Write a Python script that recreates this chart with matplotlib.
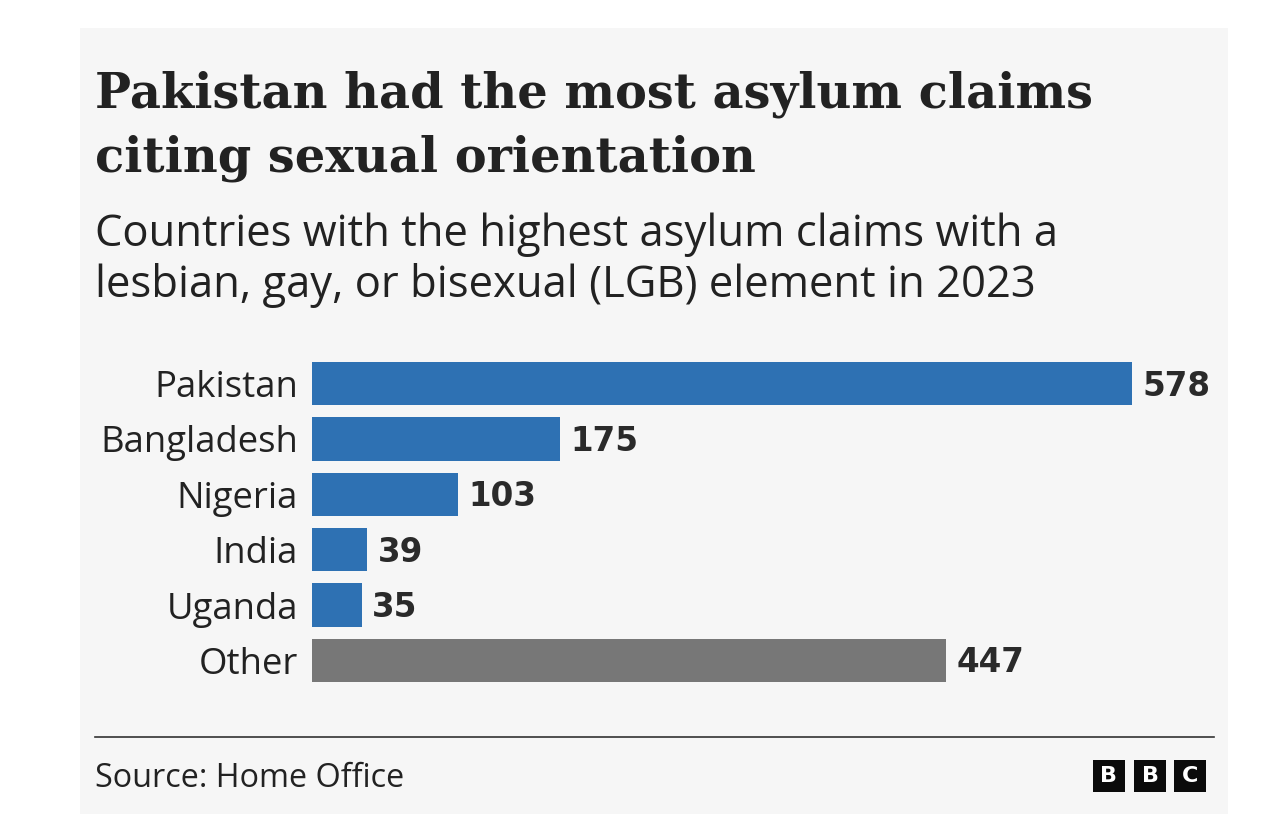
import matplotlib.pyplot as plt
from matplotlib.patches import Rectangle

# Data
countries = ["Pakistan", "Bangladesh", "Nigeria", "India", "Uganda", "Other"]
claims = [578, 175, 103, 39, 35, 447]
bar_colors = ["#2e71b3", "#2e71b3", "#2e71b3", "#2e71b3", "#2e71b3", "#777777"]

title_lines = ["Pakistan had the most asylum claims", "citing sexual orientation"]
subtitle_lines = ["Countries with the highest asylum claims with a",
                  "lesbian, gay, or bisexual (LGB) element in 2023"]
source = "Source: Home Office"

W, H = 1280, 834
TXT = "#222222"
SANS = ["Open Sans", "DejaVu Sans"]
SERIF = ["DejaVu Serif"]


def fx(px):
    return px / W


def fy(py):
    return 1 - py / H


fig = plt.figure(figsize=(W / 100, H / 100), dpi=100, facecolor="white")

# light grey panel
fig.patches.append(Rectangle((fx(80), fy(814)), fx(1228 - 80), (814 - 28) / H,
                             transform=fig.transFigure, facecolor="#f6f6f6",
                             edgecolor="none", zorder=-5))

# title and subtitle
for line, y in zip(title_lines, [107, 172]):
    fig.text(fx(95), fy(y), line, fontsize=34.5, fontweight="bold",
             family=SERIF, color=TXT, va="baseline", ha="left")
for line, y in zip(subtitle_lines, [246, 297]):
    fig.text(fx(95), fy(y), line, fontsize=31.4, family=SANS,
             color=TXT, va="baseline", ha="left")

# bars
ax = fig.add_axes([fx(312), fy(682), fx(1132 - 312), (682 - 362) / H])
ax.set_facecolor("none")
ypos = range(len(countries))
ax.barh(ypos, claims, height=0.78, color=bar_colors)
ax.set_xlim(0, max(claims))
ax.set_ylim(len(countries) - 1 + 0.39, -0.39)
ax.set_yticks(list(ypos))
ax.set_yticklabels(countries, fontsize=26.3, family=SANS, color=TXT)
ax.tick_params(axis="y", length=0, pad=10)
ax.set_xticks([])
for s in ax.spines.values():
    s.set_visible(False)

for i, v in enumerate(claims):
    ax.annotate(str(v), xy=(v, i), xytext=(7.5, -8.6), textcoords="offset points",
                va="baseline", ha="left", fontsize=23.5, fontweight="bold",
                family=["DejaVu Sans"], color="#2a2a2a", annotation_clip=False)

# footer
fig.add_artist(plt.Line2D([fx(95), fx(1214)], [fy(737), fy(737)],
                          transform=fig.transFigure, color="#333333", lw=1.2))
fig.text(fx(95), fy(787), source, fontsize=23.3, family=SANS, color=TXT,
         va="baseline", ha="left")

# BBC blocks
for x0, letter in zip([1093, 1134, 1174], "BBC"):
    fig.patches.append(Rectangle((fx(x0), fy(792)), fx(32), 32 / H,
                                 transform=fig.transFigure, facecolor="#0b0b0b",
                                 edgecolor="none", zorder=2))
    fig.text(fx(x0 + 16), fy(776), letter, fontsize=16, fontweight="bold",
             family=["DejaVu Sans"], color="white", ha="center", va="center",
             zorder=3)

fig.savefig("out.png", dpi=100, facecolor="white")
